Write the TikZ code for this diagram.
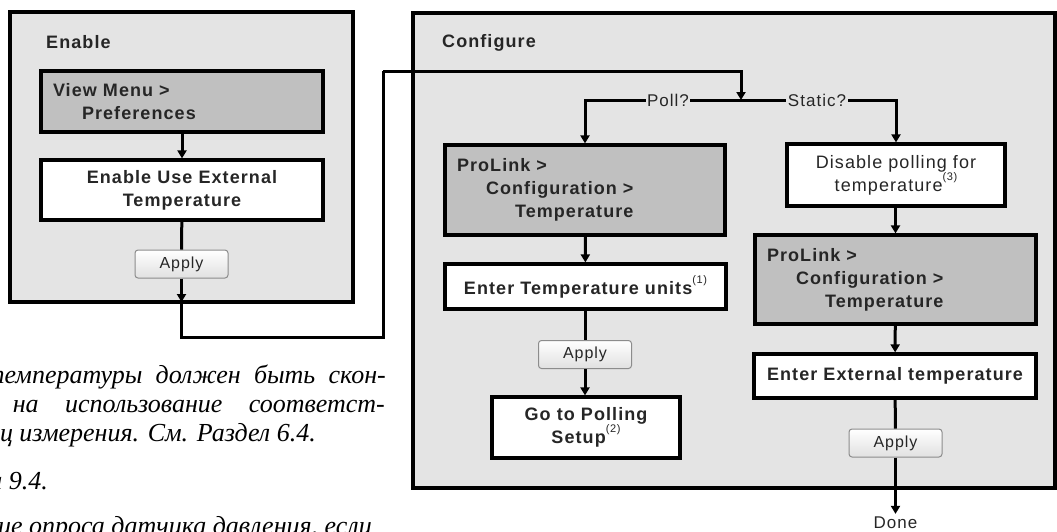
\documentclass[tikz,border=0pt]{standalone}
\usepackage{fontspec}
\usepackage{tikz}
\usetikzlibrary{arrows.meta,positioning}
\newfontfamily\diagfont{Liberation Sans}[LetterSpace=6]
\newfontfamily\notefont{Liberation Serif}
\definecolor{panelc}{RGB}{228,228,228}
\definecolor{menuc}{RGB}{192,192,192}
\definecolor{inkc}{RGB}{38,38,38}
\newcommand{\fnmark}[1]{\raisebox{0.6em}{\fontsize{11}{11}\selectfont\mdseries(#1)}}
\tikzset{
  panel/.style={draw=black,fill=panelc,line width=3.2pt,inner sep=0pt},
  ttl/.style={anchor=west,inner sep=0pt,text=inkc,font=\diagfont\bfseries\fontsize{18}{22}\selectfont},
  menu/.style={draw=black,fill=menuc,line width=3.2pt,inner xsep=12pt,inner ysep=0pt,align=left,text=inkc,font=\diagfont\bfseries\fontsize{18}{23}\selectfont},
  stepbox/.style={draw=black,fill=white,line width=3.2pt,inner sep=0pt,align=center,text=inkc,font=\diagfont\bfseries\fontsize{18}{23}\selectfont},
  applybtn/.style={draw=black!45,line width=1pt,rounded corners=3pt,top color=white,bottom color=black!12,minimum width=93pt,minimum height=28pt,inner sep=0pt,text=inkc,font=\diagfont\fontsize{16}{16}\selectfont},
  conn/.style={line width=3pt,-{Triangle[length=8pt,width=9pt]}},
  wire/.style={line width=3pt},
  qlabel/.style={fill=panelc,inner sep=1.5pt,text=inkc,font=\diagfont\fontsize{17}{17}\selectfont},
  note/.style={inner sep=0pt,font=\notefont\itshape\fontsize{26}{29}\selectfont},
}

\begin{document}
\begin{tikzpicture}[x=1pt,y=-1pt]
  \useasboundingbox (0,0) rectangle (1057,531);
  \clip (0,0) rectangle (1057,531);
  % panels
  \node[panel,minimum width=343pt,minimum height=290pt] (enpanel) at (181.5,157){};
  \node[ttl] (entitle) at (46,42){Enable};
  \node[panel,minimum width=642pt,minimum height=475pt] (cfpanel) at (734,250.5){};
  \node[ttl] (cftitle) at (442,43){Configure};
  % enable steps
  \node[menu,text width=258pt,minimum height=61pt] (viewmenu) at (182,101.5){View Menu >\\\hspace*{29pt}Preferences};
  \node[stepbox,minimum width=282pt,minimum height=60pt] (useext) at (182,190){Enable Use External\\Temperature};
  \node[applybtn] (apply1) at (181.5,264){Apply};
  \coordinate (enexit) at (181.5,302);
  \coordinate (lowR) at (383,337);
  \coordinate (topR) at (383,71);
  \coordinate (junc) at (741,100);
  \draw[conn] (viewmenu) -- (useext);
  \draw[wire] (useext) -- (apply1);
  \draw[conn] (apply1) -- (enexit);
  \draw[wire] (enexit) |- (lowR) -- (topR);
  \draw[conn] (topR) -| (junc);
  % poll branch
  \node[menu,text width=256pt,minimum height=90pt] (prolinkA) at (585,190){ProLink >\\\hspace*{29pt}Configuration >\\\hspace*{58pt}Temperature};
  \node[stepbox,minimum width=281pt,minimum height=45pt] (tempunits) at (585.5,286.5){Enter Temperature units\fnmark{1}};
  \node[applybtn] (apply2) at (585,354.5){Apply};
  \node[stepbox,minimum width=188pt,minimum height=61pt] (polling) at (586,427.5){Go to Polling\\Setup\fnmark{2}};
  \draw[conn] (junc) -| (prolinkA);
  \draw[conn] (prolinkA) -- (tempunits);
  \draw[wire] (tempunits.south -| apply2) -- (apply2);
  \draw[conn] (apply2) -- (polling.north -| apply2);
  % static branch
  \node[stepbox,minimum width=218pt,minimum height=62pt,font=\diagfont\fontsize{18}{23}\selectfont] (nopoll) at (896,175){Disable polling for\\temperature\fnmark{3}};
  \node[menu,text width=257pt,minimum height=89pt] (prolinkB) at (895.5,279.5){ProLink >\\\hspace*{29pt}Configuration >\\\hspace*{58pt}Temperature};
  \node[stepbox,minimum width=282pt,minimum height=44pt] (exttemp) at (895,376){Enter External temperature};
  \node[applybtn] (apply3) at (895.5,443){Apply};
  \node[qlabel,fill=none,inner sep=3pt] (done) at (895.5,523){Done};
  \draw[conn] (junc) -| (nopoll);
  \draw[conn] (nopoll.south -| prolinkB) -- (prolinkB);
  \draw[conn] (prolinkB) -- (exttemp);
  \draw[wire] (exttemp) -- (apply3);
  \draw[conn] (apply3) -- (done);
  \node[qlabel] (pollq) at (668,100){Poll?};
  \node[qlabel] (statq) at (817,100){Static?};
  % footnote text
  \node[note,anchor=base east] (ln1) at (386,383){\hbox to 400pt{температуры\hfil\ должен\hfil\ быть\hfil\ скон-}};
  \node[note,anchor=base east] (ln2) at (385,412){\hbox to 372pt{на\hfil\ использование\hfil\ соответст-}};
  \node[note,anchor=base east] (ln3) at (316,441){единиц измерения. См. Раздел 6.4.};
  \node[note,anchor=base east] (ln4) at (48,489){а 9.4.};
  \node[note,anchor=base east] (ln5) at (372,534){ие опроса датчика давления, если};
\end{tikzpicture}
\end{document}
